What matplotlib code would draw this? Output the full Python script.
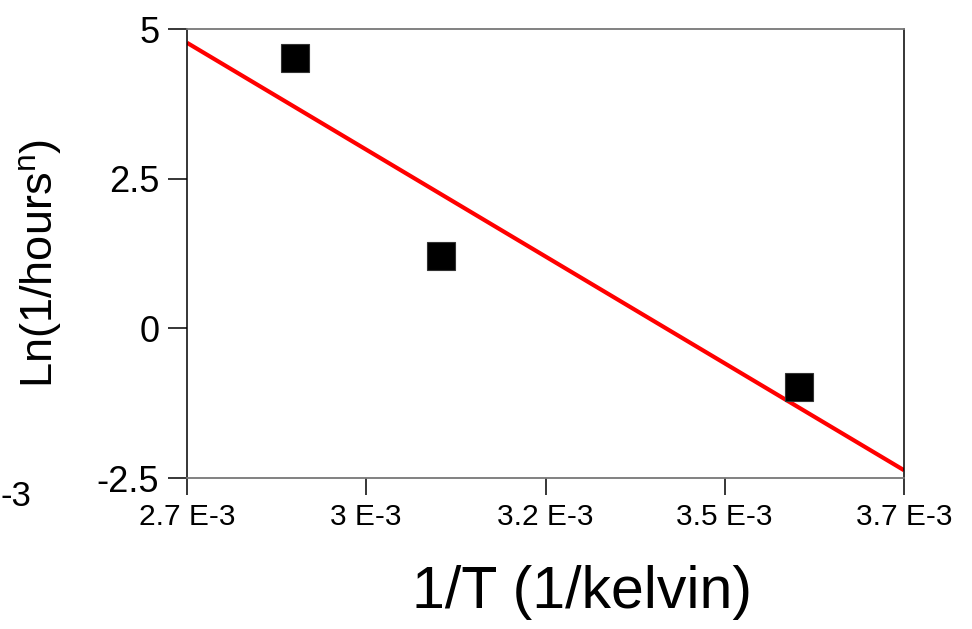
import matplotlib
matplotlib.use("Agg")
import matplotlib.pyplot as plt

plt.rcParams['font.family'] = ['Liberation Sans', 'DejaVu Sans']

# Data
inv_T = [0.002850, 0.003054, 0.003554]
ln_rate = [4.52, 1.20, -0.98]
fit_x = [0.0027, 0.0037]
fit_y = [4.77, -2.37]

x_ticks = [0.0027, 0.00295, 0.0032, 0.00345, 0.0037]
x_tick_labels = ["2.7 E-3", "3 E-3", "3.2 E-3", "3.5 E-3", "3.7 E-3"]
y_ticks = [-2.5, 0, 2.5, 5]
y_tick_labels = ["-2.5", "0", "2.5", "5"]

fig = plt.figure(figsize=(9.72, 6.29), dpi=100)
ax = fig.add_axes([187/972, 1-478/629, (904-187)/972, (478-29)/629])

ax.plot(fit_x, fit_y, color='#ff0000', lw=3.0, solid_capstyle='butt', zorder=2)
ax.plot(inv_T, ln_rate, linestyle='none', marker='s', ms=20, color='black',
        markeredgecolor='#333333', markeredgewidth=0.8, zorder=3)

ax.set_xlim(0.0027, 0.0037)
ax.set_ylim(-2.5, 5)
ax.set_xticks(x_ticks)
ax.set_xticklabels(x_tick_labels, fontsize=21.5)
ax.set_yticks(y_ticks)
ax.set_yticklabels(y_tick_labels, fontsize=26)
ax.tick_params(axis='x', direction='out', length=12, width=1.1, pad=6, colors='black')
ax.tick_params(axis='y', direction='out', length=14, width=1.1, pad=6, colors='black')

for side in ['left', 'right']:
    ax.spines[side].set_color('black')
    ax.spines[side].set_linewidth(1.1)
for side in ['top', 'bottom']:
    ax.spines[side].set_color('#777777')
    ax.spines[side].set_linewidth(1.3)

fig.text(582/972, 1-592/629, "1/T (1/kelvin)", fontsize=42.5, ha='center', va='center')
fig.text(40/972, 1-263/629, r"Ln(1/hours$^\mathregular{n}$)", fontsize=32.5,
         rotation=90, ha='center', va='center')
fig.text(0.001, 1-497/629, "-3", fontsize=25, ha='left', va='center')

fig.savefig("out.png", dpi=100)
